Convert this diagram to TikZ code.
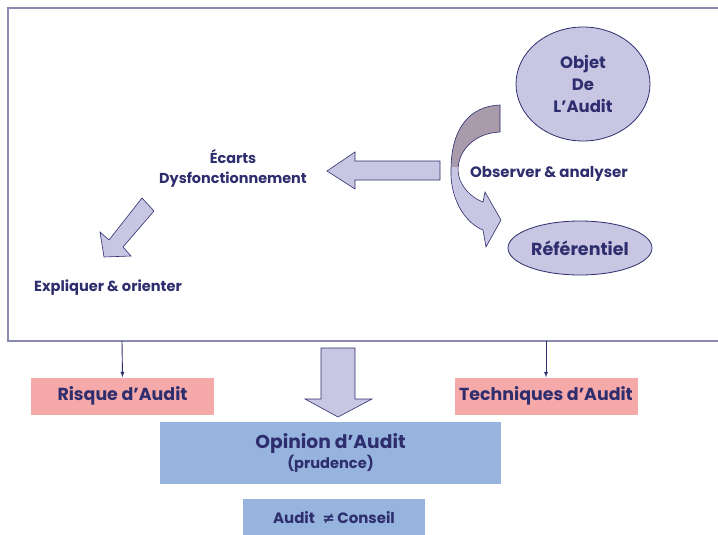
\documentclass[tikz,border=0pt]{standalone}
\usepackage{fontspec}
\setmainfont{Poppins}
\newfontfamily\symb{DejaVu Sans}
\usetikzlibrary{positioning,shapes.geometric}
\definecolor{navy}{HTML}{2E2E6E}
\definecolor{lila}{HTML}{C8C6E2}
\definecolor{mauve}{HTML}{A99BAB}
\definecolor{rosa}{HTML}{F5A9A8}
\definecolor{bleu}{HTML}{96B4DD}
\definecolor{cadre}{HTML}{8A8AB0}
\tikzset{
  lbl/.style={text=navy, font=\bfseries\fontsize{14.6}{20}\selectfont, align=center, inner sep=0pt},
  bloc/.style={fill=lila, draw=navy, line width=0.6pt},
  bulle/.style={ellipse, fill=lila, draw=navy, line width=0.8pt, text=navy,
    font=\bfseries\fontsize{16.5}{22}\selectfont, align=center, inner sep=0pt},
  pinkbox/.style={fill=rosa, text=navy, font=\bfseries\fontsize{17.4}{20}\selectfont,
    minimum width=183pt, minimum height=37pt, inner sep=0pt},
  bluebox/.style={fill=bleu, text=navy, align=center, inner sep=0pt}
}
\begin{document}
\begin{tikzpicture}[x=1pt,y=-1pt]
  \useasboundingbox (0,0) rectangle (718,535);
  % cadre
  \draw[cadre, line width=1.3pt] (718,8) -- (8,8) -- (8,341) -- (718,341);
  \coordinate (f1) at (122,341);
  \coordinate (f2) at (546,341);

  \node[bulle, minimum width=134pt, minimum height=114pt] (objet) at (583,84) {Objet\\De\\L’Audit};
  \node[bulle, minimum width=144pt, minimum height=54pt, font=\bfseries\fontsize{17.5}{20}\selectfont] (ref) at (580,248) {Référentiel};

  \node[lbl, font=\bfseries\fontsize{15}{20}\selectfont] (obs) at (549,174) {Observer \& analyser};
  \node[lbl, font=\bfseries\fontsize{14.4}{20}\selectfont] (ecarts) at (233,168) {Écarts\\Dysfonctionnement};
  \node[lbl] (expl) at (108,288) {Expliquer \& orienter};

  % fleche courbe
  \path[fill=lila] (500,105) -- (500,132) .. controls (470,133) and (452,158) .. (460,180)
    .. controls (465,192) and (475,199) .. (483,202) -- (485,192) -- (501,220) -- (486,247)
    -- (483,230) .. controls (463,222) and (450,196) .. (451,170)
    .. controls (451,128) and (470,106) .. (500,105) -- cycle;
  \begin{scope}
    \clip (440,95) rectangle (510,166);
    \path[fill=mauve] (500,105) -- (500,132) .. controls (470,133) and (452,158) .. (460,180)
      -- (451,170) .. controls (451,128) and (470,106) .. (500,105) -- cycle;
  \end{scope}
  \draw[navy, line width=0.6pt] (500,105) -- (500,132) .. controls (470,133) and (452,158) .. (460,180)
    .. controls (465,192) and (475,199) .. (483,202) -- (485,192) -- (501,220) -- (486,247)
    -- (483,230) .. controls (463,222) and (450,196) .. (451,170)
    .. controls (451,128) and (470,106) .. (500,105) -- cycle;

  % grosses fleches
  \draw[bloc] (440,161) -- (355,161) -- (355,152) -- (327,171) -- (355,189) -- (355,180) -- (440,180) -- cycle;
  \draw[bloc] (142,198) -- (154,211) -- (123,247) -- (131,256) -- (104,257) -- (100,232) -- (109,240) -- cycle;
  \draw[bloc] (321,348) -- (355,348) -- (355,399) -- (372,399) -- (338,417) -- (305,399) -- (321,399) -- cycle;

  \node[pinkbox] (risque) at (122.5,396) {Risque d’Audit};
  \node[pinkbox] (tech) at (546,396) {Techniques d’Audit};
  \node[bluebox, minimum width=341pt, minimum height=62pt] (opinion) at (330.5,453)
    {{\bfseries\fontsize{18.7}{23}\selectfont Opinion d’Audit}\\{\bfseries\fontsize{14.6}{17}\selectfont (prudence)}};
  \node[bluebox, minimum width=182pt, minimum height=36pt, below=15pt of opinion, xshift=3.5pt,
    font=\bfseries\fontsize{15}{18}\selectfont] (conseil) {Audit\; {\symb ≠}\,Conseil};

  \draw[navy, line width=0.9pt, -latex] (f1) -- (risque.north);
  \draw[navy, line width=0.9pt, -latex] (f2) -- (tech.north);
\end{tikzpicture}
\end{document}
